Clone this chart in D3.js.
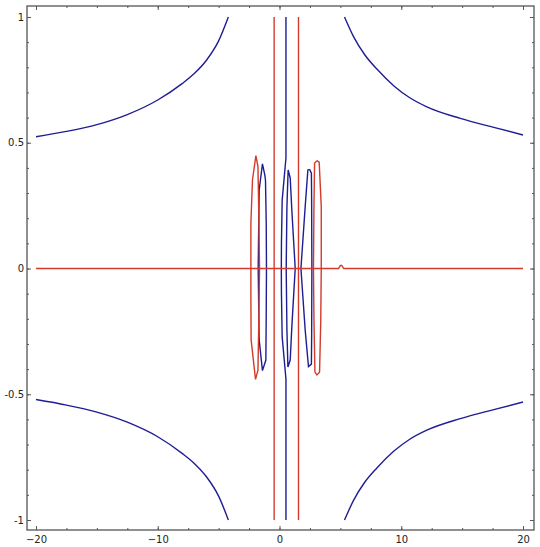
<!DOCTYPE html>
<html>
<head>
<meta charset="utf-8">
<script src="https://cdn.jsdelivr.net/npm/d3@7"></script>
<style>
  body { margin: 0; background: #fff; }
  svg { display: block; }
  .tick text { font-family: "DejaVu Sans", sans-serif; font-size: 10px; fill: #222; }
  .tick line { stroke: #555; }
</style>
</head>
<body>
<svg id="chart" width="540" height="547"></svg>
<script>
// tick values
var xMajor = [-20, -10, 0, 10, 20];
var yMajor = [-1, -0.5, 0, 0.5, 1];
var xMinor = d3.range(-20, 20.01, 2.5);
var yMinor = d3.range(-10, 10.5, 1).map(function(v) { return v / 10; });

// blue contour: outer branches
var blueUpperLeft = [[-20, 0.524], [-17.5, 0.545], [-15, 0.572], [-12.5, 0.612], [-10, 0.670],
  [-8, 0.735], [-7, 0.775], [-6, 0.828], [-5, 0.905], [-4.2, 1.0]];
var blueLowerLeft = [[-20, -0.521], [-17.5, -0.543], [-15, -0.571], [-12.5, -0.611], [-10, -0.669],
  [-8, -0.735], [-7, -0.775], [-6, -0.828], [-5, -0.905], [-4.2, -1.0]];
var blueUpperRight = [[5.34, 1.0], [6.08, 0.922], [7, 0.85], [8, 0.793], [9.4, 0.726], [10.7, 0.679],
  [12.1, 0.643], [14.85, 0.597], [17.6, 0.561], [20, 0.531]];
var blueLowerRight = [[5.34, -1.0], [6.08, -0.922], [7, -0.85], [8, -0.793], [9.4, -0.726], [10.7, -0.679],
  [12.1, -0.643], [14.85, -0.597], [17.6, -0.561], [20, -0.531]];

// blue contour: central pieces
var blueCenterLine = [[0.53, 1.0], [0.53, 0.439], [0.22, 0.272], [0.16, 0.1], [0.15, 0.0], [0.16, -0.1],
  [0.22, -0.272], [0.53, -0.439], [0.53, -1.0]];
var blueLeftLoop = [[-1.40, 0.416], [-1.20, 0.37], [-1.15, 0.35], [-1.09, 0.181], [-1.07, 0.0], [-1.09, -0.181],
  [-1.12, -0.364], [-1.40, -0.406], [-1.67, -0.284], [-1.75, 0.0], [-1.67, 0.312], [-1.40, 0.416]];
var blueMidLoop = [[0.71, 0.392], [0.88, 0.360], [1.02, 0.226], [1.29, 0.0], [1.02, -0.226], [0.88, -0.364],
  [0.69, -0.392], [0.61, -0.245], [0.55, 0.0], [0.61, 0.246], [0.71, 0.392]];
var blueRightLoop = [[2.47, 0.394], [2.62, 0.379], [2.64, 0.272], [2.65, 0.113], [2.66, 0.0], [2.65, -0.113],
  [2.64, -0.272], [2.62, -0.380], [2.38, -0.390], [2.11, -0.245], [1.76, 0.0], [2.11, 0.246], [2.33, 0.392], [2.47, 0.394]];

// red contour
var redHorizontal = [[-20, 0], [4.85, 0], [5.0, 0.012], [5.12, 0.012], [5.27, 0], [20, 0]];
var redVertLeft = [[-0.44, 1], [-0.44, -1]];
var redVertRight = [[1.56, 1], [1.56, -1]];
var redLeftLoop = [[-1.94, 0.449], [-1.77, 0.405], [-1.69, 0.181], [-1.64, 0.0], [-1.69, -0.181], [-1.77, -0.404],
  [-1.97, -0.441], [-2.33, -0.284], [-2.35, -0.125], [-2.35, 0.0], [-2.35, 0.181], [-2.22, 0.352], [-1.94, 0.449]];
var redRightLoop = [[3.07, 0.429], [3.26, 0.423], [3.43, 0.246], [3.43, 0.0], [3.39, -0.205], [3.29, -0.412],
  [3.07, -0.423], [2.91, -0.412], [2.83, -0.205], [2.79, 0.0], [2.83, 0.246], [2.88, 0.418], [3.07, 0.429]];

var blueColor = "#1e1e94";
var redColor = "#d43a2a";

var svg = d3.select("#chart");
var frame = {left: 27, right: 534, top: 6, bottom: 530};

var xScale = d3.scaleLinear().domain([-20, 20]).range([36, 523]);
var yScale = d3.scaleLinear().domain([-1, 1]).range([520, 17]);

var line = d3.line()
  .x(function(d) { return xScale(d[0]); })
  .y(function(d) { return yScale(d[1]); });
var smoothLine = d3.line()
  .x(function(d) { return xScale(d[0]); })
  .y(function(d) { return yScale(d[1]); })
  .curve(d3.curveMonotoneX);

// frame
svg.append("rect")
  .attr("x", frame.left).attr("y", frame.top)
  .attr("width", frame.right - frame.left).attr("height", frame.bottom - frame.top)
  .attr("fill", "none").attr("stroke", "#555").attr("stroke-width", 1.3);

// axes, ticks pointing inward
function addAxis(axis, tx, ty) {
  var g = svg.append("g").attr("transform", "translate(" + tx + "," + ty + ")").call(axis);
  g.select(".domain").remove();
  return g;
}
addAxis(d3.axisBottom(xScale).tickValues(xMajor).tickSize(-4).tickPadding(6).tickFormat(d3.format("d")), 0, frame.bottom);
addAxis(d3.axisBottom(xScale).tickValues(xMinor).tickSize(-2).tickFormat(""), 0, frame.bottom);
addAxis(d3.axisTop(xScale).tickValues(xMajor).tickSize(-4).tickFormat(""), 0, frame.top);
addAxis(d3.axisTop(xScale).tickValues(xMinor).tickSize(-2).tickFormat(""), 0, frame.top);
addAxis(d3.axisLeft(yScale).tickValues(yMajor).tickSize(-4).tickPadding(3).tickFormat(function(d) { return String(d); }), frame.left, 0);
addAxis(d3.axisLeft(yScale).tickValues(yMinor).tickSize(-2).tickFormat(""), frame.left, 0);
addAxis(d3.axisRight(yScale).tickValues(yMajor).tickSize(-4).tickFormat(""), frame.right, 0);
addAxis(d3.axisRight(yScale).tickValues(yMinor).tickSize(-2).tickFormat(""), frame.right, 0);

// contour lines
var blueBranches = [blueUpperLeft, blueLowerLeft, blueUpperRight, blueLowerRight];
var blueLines = [blueCenterLine, blueLeftLoop, blueMidLoop, blueRightLoop];
var redLines = [redHorizontal, redVertLeft, redVertRight, redLeftLoop, redRightLoop];

svg.append("g").selectAll("path")
  .data(blueBranches).enter().append("path")
  .attr("d", smoothLine)
  .attr("fill", "none").attr("stroke", blueColor).attr("stroke-width", 1.4);

svg.append("g").selectAll("path")
  .data(blueLines).enter().append("path")
  .attr("d", line)
  .attr("fill", "none").attr("stroke", blueColor).attr("stroke-width", 1.4);

svg.append("g").selectAll("path")
  .data(redLines).enter().append("path")
  .attr("d", line)
  .attr("fill", "none").attr("stroke", redColor).attr("stroke-width", 1.4);
</script>
</body>
</html>
